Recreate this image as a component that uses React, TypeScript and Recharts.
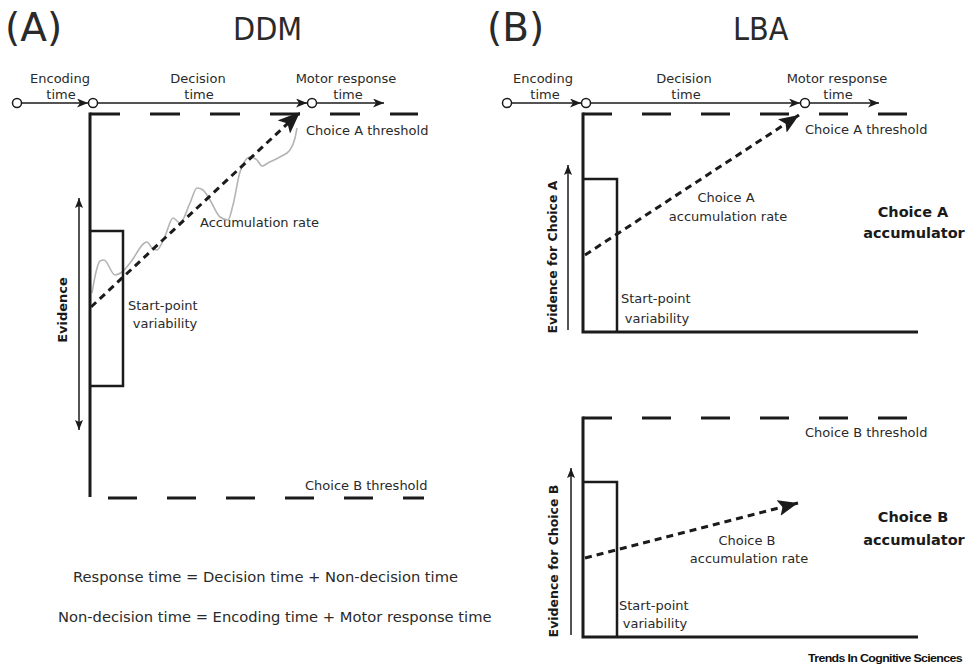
import { ComposedChart, Line, Scatter, XAxis, YAxis } from "recharts";

document.body.style.margin = "0";

type Pt = { x: number; y: number };
type Lbl = { x: number; y: number; text: string };

const W = 967;
const H = 672;
const INK = "#1b1b1b";
const TXT = "#2a2a2a";
const FONT = "'DejaVu Sans', Verdana, sans-serif";

// ---- time line along the top of each panel ----
const timeNodesA: Pt[] = [{ x: 17, y: 103 }, { x: 93, y: 103 }, { x: 312, y: 103 }];
const timeNodesB: Pt[] = [{ x: 507, y: 103 }, { x: 586, y: 103 }, { x: 805, y: 103 }];
const timeArrows: Pt[][] = [
  [{ x: 22, y: 103 }, { x: 88, y: 103 }],
  [{ x: 98, y: 103 }, { x: 307, y: 103 }],
  [{ x: 317, y: 103 }, { x: 384, y: 103 }],
  [{ x: 512, y: 103 }, { x: 581, y: 103 }],
  [{ x: 591, y: 103 }, { x: 800, y: 103 }],
  [{ x: 810, y: 103 }, { x: 879, y: 103 }],
];

// ---- (A) DDM ----
const ddmAxis: Pt[] = [{ x: 90, y: 112.5 }, { x: 90, y: 497 }];
const ddmUpper: Pt[] = [{ x: 90, y: 114 }, { x: 418, y: 114 }];
const ddmLower: Pt[] = [{ x: 108, y: 498 }, { x: 424, y: 498 }];
const ddmStartBox: Pt[] = [{ x: 91, y: 231 }, { x: 123, y: 231 }, { x: 123, y: 386 }, { x: 91, y: 386 }];
const ddmEvidence: Pt[] = [{ x: 79, y: 198 }, { x: 79, y: 430 }];
const ddmDrift: Pt[] = [{ x: 91, y: 307 }, { x: 300, y: 112 }];
const ddmSample: Pt[] = [
  { x: 92, y: 293 }, { x: 96, y: 272 }, { x: 100, y: 261 }, { x: 104, y: 260 },
  { x: 115, y: 275 }, { x: 122, y: 272 }, { x: 130, y: 263 }, { x: 147, y: 242 },
  { x: 152, y: 248 }, { x: 157, y: 250 }, { x: 165, y: 236 }, { x: 173, y: 218 },
  { x: 180, y: 223 }, { x: 190, y: 203 }, { x: 197, y: 188 }, { x: 203, y: 190 },
  { x: 210, y: 200 }, { x: 220, y: 217 }, { x: 228, y: 220 }, { x: 233, y: 205 },
  { x: 240, y: 172 }, { x: 250, y: 157 }, { x: 257, y: 160 }, { x: 262, y: 166 },
  { x: 268, y: 163 }, { x: 280, y: 157 }, { x: 290, y: 150 }, { x: 295, y: 138 },
  { x: 297, y: 128 },
];

// ---- (B) LBA, choice A accumulator ----
const lbaAAxis: Pt[] = [{ x: 583, y: 112.5 }, { x: 583, y: 332 }, { x: 918, y: 332 }];
const lbaAThreshold: Pt[] = [{ x: 583, y: 114 }, { x: 910, y: 114 }];
const lbaABox: Pt[] = [{ x: 583, y: 179 }, { x: 617, y: 179 }, { x: 617, y: 332 }];
const lbaAEvidence: Pt[] = [{ x: 568, y: 330 }, { x: 568, y: 165 }];
const lbaADrift: Pt[] = [{ x: 585, y: 255 }, { x: 799, y: 115 }];

// ---- (B) LBA, choice B accumulator ----
const lbaBAxis: Pt[] = [{ x: 583, y: 416.5 }, { x: 583, y: 637 }, { x: 918, y: 637 }];
const lbaBThreshold: Pt[] = [{ x: 583, y: 418 }, { x: 910, y: 418 }];
const lbaBBox: Pt[] = [{ x: 583, y: 482 }, { x: 617, y: 482 }, { x: 617, y: 637 }];
const lbaBEvidence: Pt[] = [{ x: 571, y: 635 }, { x: 571, y: 468 }];
const lbaBDrift: Pt[] = [{ x: 585, y: 558 }, { x: 798, y: 503 }];

// ---- text ----
const panelLetters: Lbl[] = [
  { x: 5, y: 41, text: "(A)" },
  { x: 487, y: 41, text: "(B)" },
];
const modelNames: Lbl[] = [
  { x: 233, y: 40, text: "DDM" },
  { x: 733, y: 40, text: "LBA" },
];
const centredNotes: Lbl[] = [
  { x: 60, y: 83, text: "Encoding" },
  { x: 61, y: 99, text: "time" },
  { x: 198, y: 83, text: "Decision" },
  { x: 199, y: 99, text: "time" },
  { x: 346, y: 83, text: "Motor response" },
  { x: 348, y: 99, text: "time" },
  { x: 543, y: 83, text: "Encoding" },
  { x: 545, y: 99, text: "time" },
  { x: 684, y: 83, text: "Decision" },
  { x: 686, y: 99, text: "time" },
  { x: 837, y: 83, text: "Motor response" },
  { x: 838, y: 99, text: "time" },
  { x: 165, y: 328, text: "variability" },
  { x: 726, y: 202, text: "Choice A" },
  { x: 728, y: 221, text: "accumulation rate" },
  { x: 657, y: 323, text: "variability" },
  { x: 747, y: 545, text: "Choice B" },
  { x: 749, y: 563, text: "accumulation rate" },
  { x: 655, y: 628, text: "variability" },
];
const leftNotes: Lbl[] = [
  { x: 306, y: 135, text: "Choice A threshold" },
  { x: 200, y: 227, text: "Accumulation rate" },
  { x: 128, y: 310, text: "Start-point" },
  { x: 305, y: 490, text: "Choice B threshold" },
  { x: 805, y: 134, text: "Choice A threshold" },
  { x: 621, y: 303, text: "Start-point" },
  { x: 805, y: 437, text: "Choice B threshold" },
  { x: 619, y: 610, text: "Start-point" },
];
const equations: Lbl[] = [
  { x: 73, y: 582, text: "Response time = Decision time + Non-decision time" },
  { x: 58, y: 622, text: "Non-decision time = Encoding time + Motor response time" },
];
const accumulatorNames: Lbl[] = [
  { x: 913, y: 217, text: "Choice A" },
  { x: 914, y: 238, text: "accumulator" },
  { x: 913, y: 522, text: "Choice B" },
  { x: 914, y: 545, text: "accumulator" },
];
const evidenceTitles: Lbl[] = [
  { x: 62, y: 310, text: "Evidence" },
];
const evidenceChoiceTitles: Lbl[] = [
  { x: 552, y: 257, text: "Evidence for Choice A" },
  { x: 553, y: 561, text: "Evidence for Choice B" },
];
const journal: Lbl[] = [{ x: 808, y: 662, text: "Trends In Cognitive Sciences" }];

const textShape =
  (size: number, anchor: "start" | "middle" | "end", extra: Record<string, any> = {}, rotate = false) =>
  (props: any) => {
    const { cx, cy, payload } = props;
    return (
      <text
        x={cx}
        y={cy}
        fontSize={size}
        fontFamily={FONT}
        fill={TXT}
        textAnchor={anchor}
        dominantBaseline={rotate ? "central" : undefined}
        transform={rotate ? `rotate(-90 ${cx} ${cy})` : undefined}
        {...extra}
      >
        {payload.text}
      </text>
    );
  };

const nodeShape = (props: any) => (
  <circle cx={props.cx} cy={props.cy} r={4.5} fill="#fff" stroke={INK} strokeWidth={1.5} />
);

const head = (id: string, len: number, wid: number, notch: number) => (
  <marker
    id={id}
    markerUnits="userSpaceOnUse"
    markerWidth={len}
    markerHeight={wid}
    viewBox={`0 0 ${len} ${wid}`}
    refX={len}
    refY={wid / 2}
    orient="auto-start-reverse"
  >
    <path d={`M0,0 L${len},${wid / 2} L0,${wid} L${notch},${wid / 2} Z`} fill={INK} />
  </marker>
);

const common = { dataKey: "y", dot: false, activeDot: false, isAnimationActive: false, type: "linear" as const };

export default function App() {
  return (
    <div style={{ width: W, height: H, background: "#fff" }}>
      <ComposedChart width={W} height={H} margin={{ top: 0, right: 0, bottom: 0, left: 0 }}>
        <defs>
          {head("headTime", 11, 9, 3)}
          {head("headEvid", 10, 8, 2)}
          {head("headBig", 22, 18, 5)}
          {head("headMid", 20, 16, 4)}
        </defs>
        <XAxis type="number" dataKey="x" domain={[0, W]} hide allowDataOverflow />
        <YAxis type="number" dataKey="y" domain={[0, H]} reversed hide allowDataOverflow />

        {timeArrows.map((d, i) => (
          <Line key={`t${i}`} {...common} data={d} stroke={INK} strokeWidth={1.5} markerEnd="url(#headTime)" />
        ))}

        {/* DDM */}
        <Line {...common} data={ddmSample} type="monotoneX" stroke="#b4b4b4" strokeWidth={1.6} />
        <Line {...common} data={ddmAxis} stroke={INK} strokeWidth={3} />
        <Line {...common} data={ddmUpper} stroke={INK} strokeWidth={3} strokeDasharray="30 30" />
        <Line {...common} data={ddmLower} stroke={INK} strokeWidth={3} strokeDasharray="29 30" />
        <Line {...common} data={ddmStartBox} stroke={INK} strokeWidth={2.5} strokeLinejoin="miter" />
        <Line {...common} data={ddmEvidence} stroke={INK} strokeWidth={1.5}
          markerStart="url(#headEvid)" markerEnd="url(#headEvid)" />
        <Line {...common} data={ddmDrift} stroke={INK} strokeWidth={3} strokeDasharray="7 5" markerEnd="url(#headBig)" />

        {/* LBA choice A */}
        <Line {...common} data={lbaAAxis} stroke={INK} strokeWidth={3} strokeLinejoin="miter" />
        <Line {...common} data={lbaAThreshold} stroke={INK} strokeWidth={3} strokeDasharray="29 30" />
        <Line {...common} data={lbaABox} stroke={INK} strokeWidth={2.5} strokeLinejoin="miter" />
        <Line {...common} data={lbaAEvidence} stroke={INK} strokeWidth={1.5} markerEnd="url(#headEvid)" />
        <Line {...common} data={lbaADrift} stroke={INK} strokeWidth={3} strokeDasharray="7 5" markerEnd="url(#headMid)" />

        {/* LBA choice B */}
        <Line {...common} data={lbaBAxis} stroke={INK} strokeWidth={3} strokeLinejoin="miter" />
        <Line {...common} data={lbaBThreshold} stroke={INK} strokeWidth={3} strokeDasharray="29 30" />
        <Line {...common} data={lbaBBox} stroke={INK} strokeWidth={2.5} strokeLinejoin="miter" />
        <Line {...common} data={lbaBEvidence} stroke={INK} strokeWidth={1.5} markerEnd="url(#headEvid)" />
        <Line {...common} data={lbaBDrift} stroke={INK} strokeWidth={3} strokeDasharray="7 5" markerEnd="url(#headMid)" />

        <Scatter data={timeNodesA} dataKey="y" shape={nodeShape} isAnimationActive={false} />
        <Scatter data={timeNodesB} dataKey="y" shape={nodeShape} isAnimationActive={false} />

        <Scatter data={panelLetters} dataKey="y" isAnimationActive={false} shape={textShape(39, "start")} />
        <Scatter data={modelNames} dataKey="y" isAnimationActive={false}
          shape={textShape(32, "start", { fontFamily: "'DejaVu Sans Condensed', 'DejaVu Sans', sans-serif", fontStretch: "condensed" })} />
        <Scatter data={centredNotes} dataKey="y" isAnimationActive={false} shape={textShape(13, "middle")} />
        <Scatter data={leftNotes} dataKey="y" isAnimationActive={false} shape={textShape(13, "start")} />
        <Scatter data={equations} dataKey="y" isAnimationActive={false} shape={textShape(14.7, "start")} />
        <Scatter data={accumulatorNames} dataKey="y" isAnimationActive={false}
          shape={textShape(14.5, "middle", { fontWeight: "bold", fill: "#1a1a1a" })} />
        <Scatter data={evidenceTitles} dataKey="y" isAnimationActive={false}
          shape={textShape(13, "middle", { fontWeight: "bold", fill: "#1a1a1a" }, true)} />
        <Scatter data={evidenceChoiceTitles} dataKey="y" isAnimationActive={false}
          shape={textShape(12.5, "middle", { fontWeight: "bold", fill: "#1a1a1a" }, true)} />
        <Scatter data={journal} dataKey="y" isAnimationActive={false}
          shape={textShape(11.5, "start", {
            fontWeight: "bold", fill: "#111",
            fontFamily: "'Liberation Sans', Arial, sans-serif",
            letterSpacing: -0.6,
            textLength: 154,
            lengthAdjust: "spacingAndGlyphs",
          })} />
      </ComposedChart>
    </div>
  );
}
